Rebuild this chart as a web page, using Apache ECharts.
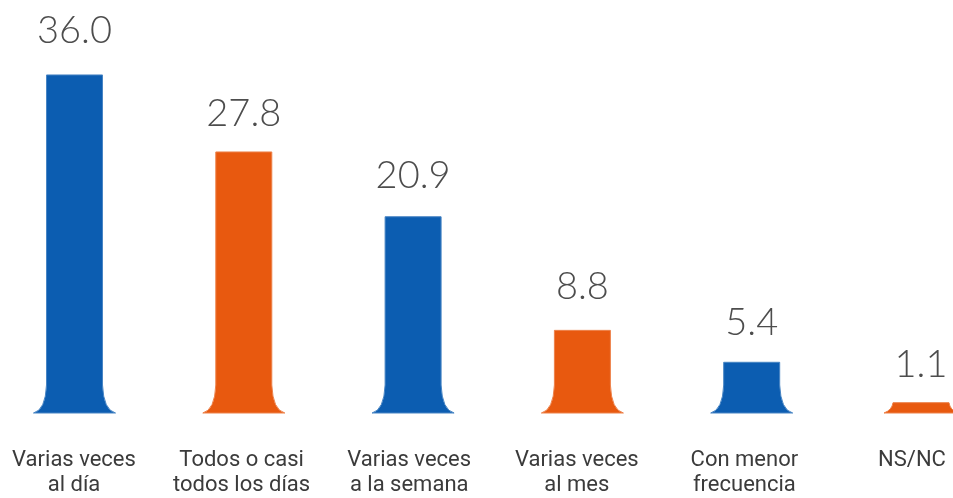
<!DOCTYPE html>
<html>
<head>
<meta charset="utf-8">
<style>
  html, body { margin: 0; padding: 0; background: #ffffff; }
  #chart { width: 953px; height: 498px; }
</style>
<script src="https://cdn.jsdelivr.net/npm/echarts@6/dist/echarts.min.js"></script>
</head>
<body>
<div id="chart"></div>
<script>
// Frecuencia de uso: porcentaje de respuestas por categoría
const categories = [
  'Varias veces\nal día',
  'Todos o casi\ntodos los días',
  'Varias veces\na la semana',
  'Varias veces\nal mes',
  'Con menor\nfrecuencia',
  'NS/NC'
];
const values = [36.0, 27.8, 20.9, 8.8, 5.4, 1.1];
const valueLabels = ['36.0', '27.8', '20.9', '8.8', '5.4', '1.1'];

// Alternating bar palette
const BLUE = '#0c5db1';
const ORANGE = '#e8590f';
const barColors = [BLUE, ORANGE, BLUE, ORANGE, BLUE, ORANGE];
// Space (px) between each value label and the top of its column
const labelGap = [35, 29, 32, 34, 30, 29];

const VALUE_FONT_SIZE = 38;

const chart = echarts.init(document.getElementById('chart'), null, { renderer: 'canvas' });

// Column with a flared foot, drawn from the axis scale
function renderFlaredBar(params, api) {
  const idx = params.dataIndex;
  const top = api.coord([api.value(0), api.value(1)]);
  const base = api.coord([api.value(0), 0]);
  const w = 56;
  const cx = top[0];
  const left = cx - w / 2;
  const right = cx + w / 2;
  const topY = top[1];
  const baseY = base[1];
  const h = baseY - topY;
  const flareH = Math.min(28, h);
  const flareW = h < 28 ? 9 : 13;
  const startY = baseY - flareH;
  const d = [
    'M', left, topY,
    'L', left, startY,
    'Q', left - 1, baseY - 3, left - flareW, baseY,
    'L', right + flareW, baseY,
    'Q', right + 1, baseY - 3, right, startY,
    'L', right, topY,
    'Z'
  ].join(' ');
  const color = barColors[idx];
  return {
    type: 'group',
    children: [
      {
        type: 'path',
        shape: {
          pathData: d,
          layout: 'cover',
          x: left - flareW,
          y: topY,
          width: w + flareW * 2,
          height: h
        },
        style: {
          fill: color,
          stroke: echarts.color.lift(color, 0.25),
          lineWidth: 1
        }
      },
      {
        type: 'text',
        x: cx,
        y: topY - labelGap[idx] + VALUE_FONT_SIZE * 0.26,
        style: {
          text: valueLabels[idx],
          fill: '#4d4d4d',
          font: '300 ' + VALUE_FONT_SIZE + 'px Lato, Roboto, sans-serif',
          align: 'center',
          verticalAlign: 'bottom'
        }
      }
    ]
  };
}

chart.setOption({
  backgroundColor: '#ffffff',
  animation: false,
  grid: [
    // columns
    { left: 74.5, right: 32, top: 37.4, bottom: 85 },
    // category captions
    { left: 74, right: 41, top: 37.4, bottom: 85 }
  ],
  xAxis: [
    {
      gridIndex: 0,
      type: 'category',
      boundaryGap: false,
      data: categories,
      axisLine: { show: false },
      axisTick: { show: false },
      axisLabel: { show: false }
    },
    {
      gridIndex: 1,
      type: 'category',
      boundaryGap: false,
      data: categories,
      axisLine: { show: false },
      axisTick: { show: false },
      axisLabel: {
        color: '#3b3b3b',
        fontSize: 22,
        lineHeight: 25,
        fontFamily: 'Roboto, "Liberation Sans", sans-serif',
        margin: 40,
        interval: 0
      }
    }
  ],
  yAxis: [
    { gridIndex: 0, type: 'value', min: 0, max: 40, show: false, splitLine: { show: false } },
    { gridIndex: 1, type: 'value', min: 0, max: 40, show: false, splitLine: { show: false } }
  ],
  series: [{
    type: 'custom',
    xAxisIndex: 0,
    yAxisIndex: 0,
    renderItem: renderFlaredBar,
    clip: false,
    data: values.map((v, i) => [i, v])
  }]
});
</script>
</body>
</html>
